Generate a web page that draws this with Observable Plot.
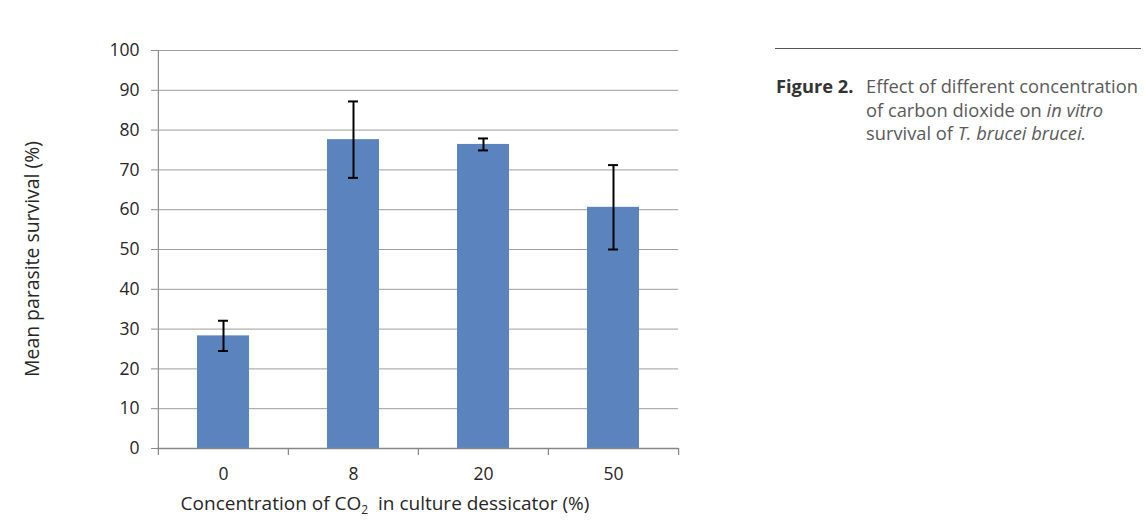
<!DOCTYPE html>
<html>
<head>
<meta charset="utf-8">
<script src="https://cdn.jsdelivr.net/npm/d3@7"></script>
<script src="https://cdn.jsdelivr.net/npm/@observablehq/plot@0.6"></script>
<style>
  html, body { margin: 0; padding: 0; background: #fff; }
  #wrap { position: relative; width: 1147px; height: 532px; overflow: hidden; font-family: "Open Sans", sans-serif; }
  #chart svg { display: block; }
  .ylab { position: absolute; left: 31px; top: 259px; transform: translate(-50%, -50%) rotate(-90deg); white-space: nowrap; font-size: 19.4px; color: #262626; }
  .xlab { position: absolute; left: 385px; top: 503px; transform: translate(-50%, -50%); white-space: nowrap; font-size: 19px; color: #262626; }
  .xlab sub { font-size: 12px; vertical-align: -4px; line-height: 0; }
  .capline { position: absolute; left: 775px; top: 48px; width: 366px; height: 0; border-top: 1px solid #555; }
  .cap { position: absolute; left: 776px; top: 74px; font-size: 18.3px; line-height: 23.5px; color: #5a5a5a; white-space: nowrap; }
  .cap .fig { position: absolute; left: 0; top: 0; font-weight: bold; color: #333; white-space: nowrap; }
  .cap .txt { position: absolute; left: 90px; top: 0; white-space: nowrap; }
</style>
</head>
<body>
<div id="wrap">
  <div id="chart"></div>
  <div class="ylab">Mean parasite survival (%)</div>
  <div class="xlab">Concentration of CO<sub>2</sub> &nbsp;in culture dessicator (%)</div>
  <div class="capline"></div>
  <div class="cap"><span class="fig">Figure 2.</span><span class="txt">Effect of different concentration<br>of carbon dioxide on <i>in vitro</i><br>survival of <i>T. brucei brucei.</i></span></div>
</div>
<script>
const categories = ["0", "8", "20", "50"];
const means = [28.3, 77.6, 76.4, 60.6];
const errors = [3.8, 9.6, 1.5, 10.6];
const yTicks = [0, 10, 20, 30, 40, 50, 60, 70, 80, 90, 100];

const data = categories.map((c, i) => ({c, v: means[i], lo: means[i] - errors[i], hi: means[i] + errors[i]}));

const W = 1147, H = 532, mL = 157, mR = 469, mT = 50, mB = 84;
const step = (W - mL - mR) / categories.length;

const chart = Plot.plot({
  width: W,
  height: H,
  marginLeft: mL,
  marginRight: mR,
  marginTop: mT,
  marginBottom: mB,
  style: {fontFamily: "'Open Sans', sans-serif", fontSize: "17px", color: "#262626", background: "#fff"},
  x: {domain: categories, paddingInner: 0.6, paddingOuter: 0.3, label: null},
  y: {domain: [0, 100], label: null},
  marks: [
    Plot.gridY(yTicks.filter(t => t > 0), {stroke: "#9c9c9c", strokeOpacity: 1, strokeWidth: 1}),
    Plot.barY(data, {x: "c", y: "v", fill: "#5B84BF"}),
    Plot.ruleY([0], {stroke: "#868686", strokeWidth: 1.3}),
    Plot.ruleX([categories[0]], {dx: -step / 2, y1: 0, y2: 100, stroke: "#8c8c8c", strokeWidth: 1.2}),
    Plot.ruleX(categories, {x: d => d, dx: -step / 2, y1: 0, y2: 0, insetTop: 7, stroke: "#868686", strokeWidth: 1.2}),
    Plot.ruleX([categories[categories.length - 1]], {dx: step / 2, y1: 0, y2: 0, insetTop: 7, stroke: "#868686", strokeWidth: 1.2}),
    Plot.ruleX(data, {x: "c", y1: "lo", y2: "hi", stroke: "#000", strokeWidth: 2}),
    Plot.tickY(data, {x: "c", y: "lo", stroke: "#000", strokeWidth: 2, insetLeft: 21, insetRight: 21}),
    Plot.tickY(data, {x: "c", y: "hi", stroke: "#000", strokeWidth: 2, insetLeft: 21, insetRight: 21}),
    Plot.axisY({ticks: yTicks, tickSize: 6, tickPadding: 12, stroke: "#8c8c8c", fill: "#262626", fontSize: 17.5, label: null}),
    Plot.axisX({tickSize: 0, tickPadding: 19, fill: "#262626", fontSize: 17.5, label: null})
  ]
});
document.getElementById("chart").appendChild(chart);
</script>
</body>
</html>
